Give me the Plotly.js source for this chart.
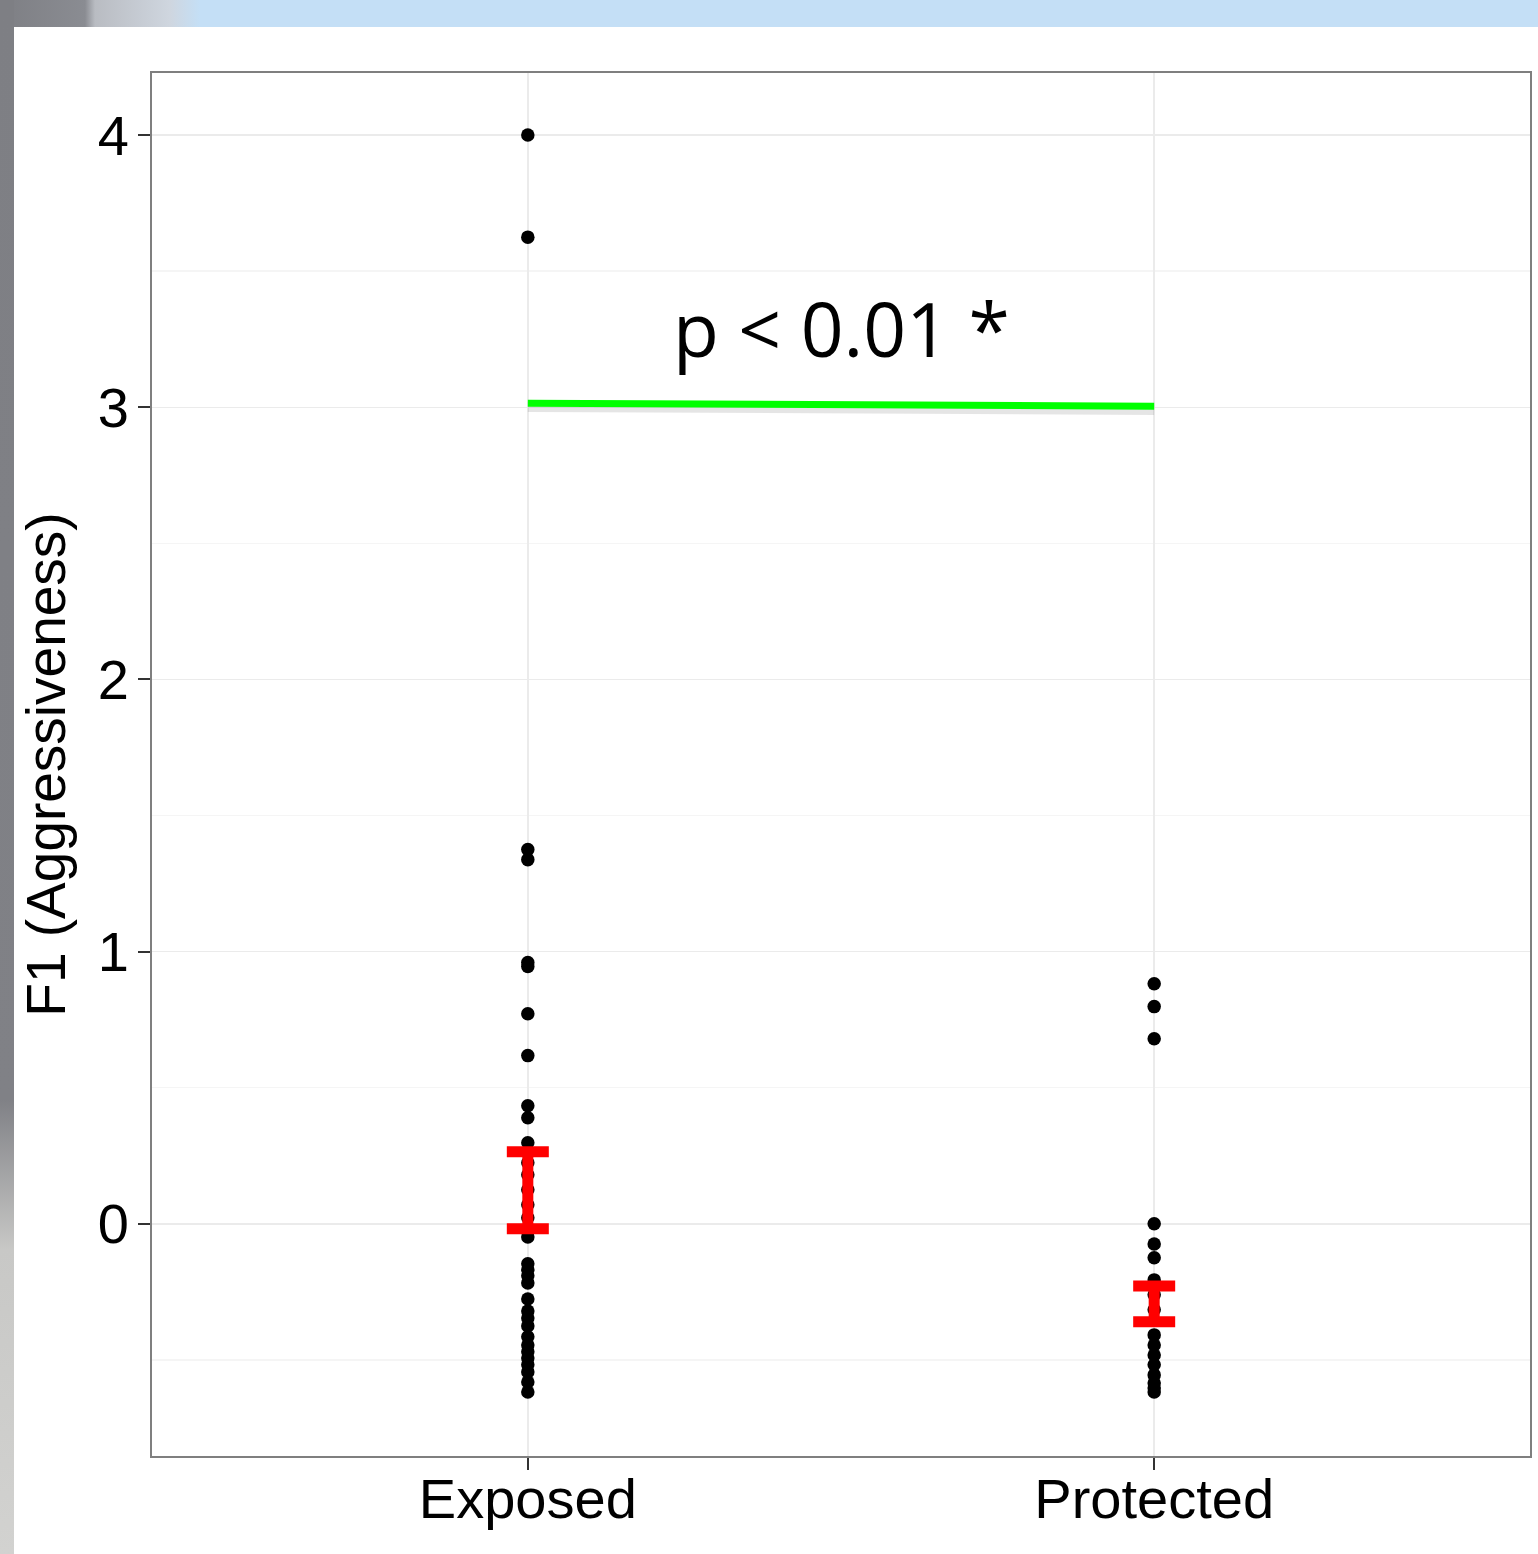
<!DOCTYPE html>
<html>
<head>
<meta charset="utf-8">
<script src="https://cdn.plot.ly/plotly-3.0.1.min.js"></script>
<style>
  html, body { margin: 0; padding: 0; width: 1538px; height: 1554px; overflow: hidden; background: #ffffff; }
  #topband { position: absolute; left: 0; top: 0; width: 1538px; height: 27px;
    background: linear-gradient(to right, #7e7f84 0px, #8a8c92 85px, #b9bcc2 95px, #cfd6df 170px, #c4dff6 200px, #c4dff6 100%); }
  #leftband { position: absolute; left: 0; top: 0; width: 14px; height: 1554px;
    background: linear-gradient(to bottom, #7e7f84 0px, #808186 1100px, #c8c8c6 1250px, #d2d2d0 1554px); }
  #chart { position: absolute; left: 14px; top: 27px; width: 1524px; height: 1527px; }
</style>
</head>
<body>
<div id="topband"></div>
<div id="leftband"></div>
<div id="chart"></div>
<script>
// ---- data ----
const categories = ["Exposed", "Protected"];

const exposedValues = [4.00, 3.625, 1.375, 1.338, 0.96, 0.945, 0.772, 0.618, 0.434, 0.39,
  0.298, 0.261, 0.224, 0.18, 0.125, 0.07, 0.022, -0.048,
  -0.147, -0.169, -0.191, -0.217, -0.276, -0.32, -0.346, -0.375, -0.415, -0.445,
  -0.47, -0.493, -0.518, -0.544, -0.581, -0.618];

const protectedValues = [0.882, 0.798, 0.68, 0.0, -0.074, -0.125, -0.206, -0.261, -0.316,
  -0.408, -0.445, -0.482, -0.518, -0.555, -0.585, -0.603, -0.618];

const errLower = [-0.018, -0.36];
const errUpper = [0.265, -0.228];

const sigBarY = [3.015, 3.004];
const sigLabel = "p < 0.01 *";
const yTickVals = [0, 1, 2, 3, 4];
const yTickText = ["0", "1", "2", "3", "4"];
const yTitle = "F1 (Aggressiveness)";

// ---- traces ----
const pointsExposed = {
  type: "scatter", mode: "markers",
  x: exposedValues.map(() => categories[0]), y: exposedValues,
  marker: { color: "#000000", size: 13.5 }, hoverinfo: "y", showlegend: false
};
const pointsProtected = {
  type: "scatter", mode: "markers",
  x: protectedValues.map(() => categories[1]), y: protectedValues,
  marker: { color: "#000000", size: 13.5 }, hoverinfo: "y", showlegend: false
};

const mids = errLower.map((lo, i) => (lo + errUpper[i]) / 2);
const errBars = {
  type: "scatter", mode: "markers",
  x: categories, y: mids,
  marker: { color: "rgba(0,0,0,0)", size: 1 },
  error_y: {
    type: "data", symmetric: false,
    array: errUpper.map((hi, i) => hi - mids[i]),
    arrayminus: mids.map((m, i) => m - errLower[i]),
    color: "#ff0000", thickness: 11, width: 21
  },
  hoverinfo: "skip", showlegend: false
};

const sigShadow = {
  type: "scatter", mode: "lines",
  x: categories, y: sigBarY.map(v => v - 0.014),
  line: { color: "rgba(0,0,0,0.10)", width: 10 },
  hoverinfo: "skip", showlegend: false
};
const sigBar = {
  type: "scatter", mode: "lines",
  x: categories, y: sigBarY,
  line: { color: "#00ff00", width: 7 },
  hoverinfo: "skip", showlegend: false
};

const layout = {
  width: 1524, height: 1527,
  margin: { l: 138, r: 8, t: 46, b: 98, pad: 0 },
  paper_bgcolor: "#ffffff", plot_bgcolor: "#ffffff",
  font: { family: "Liberation Sans, Arial, sans-serif", color: "#000000" },
  xaxis: {
    type: "category", categoryorder: "array", categoryarray: categories,
    range: [-0.6, 1.6],
    showgrid: true, gridcolor: "#ebebeb", gridwidth: 1.5,
    showline: true, mirror: true, linecolor: "#7f7f7f", linewidth: 2,
    ticks: "outside", ticklen: 12, tickwidth: 2, tickcolor: "#333333",
    ticklabelstandoff: -19,
    tickfont: { size: 56, color: "#000000", family: "Liberation Sans, Arial, sans-serif" },
    zeroline: false
  },
  yaxis: {
    range: [-0.853, 4.228],
    tickvals: yTickVals, ticktext: yTickText,
    showgrid: true, gridcolor: "#ebebeb", gridwidth: 1.5,
    minor: { dtick: 0.5, tick0: 0, showgrid: true, gridcolor: "#f5f5f5", gridwidth: 1.5, ticks: "" },
    showline: true, mirror: true, linecolor: "#7f7f7f", linewidth: 2,
    ticks: "outside", ticklen: 12, tickwidth: 2, tickcolor: "#333333",
    ticklabelstandoff: -2,
    tickfont: { size: 56, color: "#000000", family: "Liberation Sans, Arial, sans-serif" },
    zeroline: false,
    title: { text: yTitle, font: { size: 55, color: "#000000", family: "Liberation Sans, Arial, sans-serif" }, standoff: 14 }
  },
  annotations: [{
    xref: "paper", yref: "y", x: 0.5, y: 3.29,
    text: sigLabel, showarrow: false,
    font: { size: 75, color: "#000000", family: "Open Sans, sans-serif" },
    xanchor: "center", yanchor: "middle"
  }]
};

Plotly.newPlot("chart", [pointsExposed, pointsProtected, sigShadow, sigBar, errBars], layout,
  { displayModeBar: false, staticPlot: true });
</script>
</body>
</html>
